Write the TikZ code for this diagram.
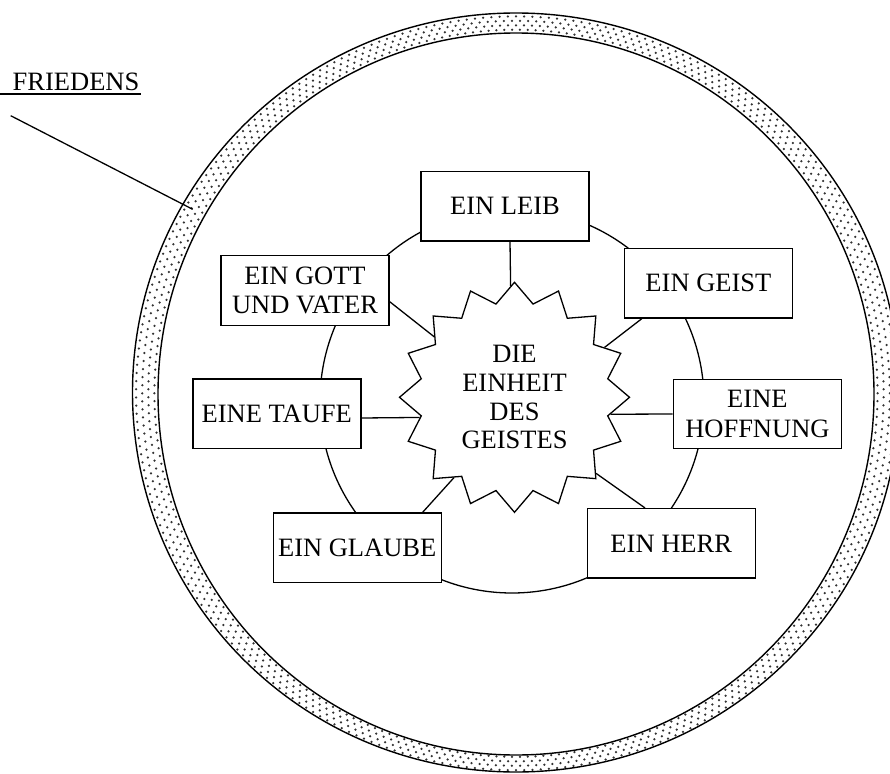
\documentclass[tikz,border=0pt]{standalone}
\usepackage{fontspec}
\setmainfont{Liberation Serif}
\usetikzlibrary{shapes.geometric}
\definecolor{dotc}{gray}{0.2}
\tikzset{
  box/.style={draw, fill=white, line width=1.4pt, rectangle, inner sep=0pt,
    minimum width=168pt, minimum height=69.5pt, align=center,
    font=\fontsize{26.5}{29.5}\selectfont},
  link/.style={line width=1.3pt},
  ringline/.style={line width=1.4pt},
}
\begin{document}
\begin{tikzpicture}[x=1pt,y=-1pt]
\useasboundingbox (0,0) rectangle (890,773);
\clip (0,0) rectangle (890,773);
% dotted ring
\foreach \i in {0,...,289}{
  \foreach \f/\off in {0.14/0,0.38/0.6207,0.62/0,0.86/0.6207}{
    \pgfmathsetmacro\b{\i*1.2413793+\off}
    \fill[dotc] ({516+(358+\f*25.5)*cos(\b)},{393.3+(361+\f*18.5)*sin(\b)}) circle[radius=1.25];
  }
}
\draw[ringline] (516,392.5) ellipse[x radius=383.5, y radius=379.5];
\draw[ringline] (516,394) ellipse[x radius=358, y radius=361];
% FRIEDENS label
\node[anchor=base west, inner sep=0pt, font=\fontsize{26.5}{29.5}\selectfont] (fried) at (12.5,90.7) {FRIEDENS};
\draw[line width=1.5pt] (0,94) -- (141,94);
\coordinate (la) at (10.7,115.7);
\coordinate (lb) at (192.7,209.3);
\draw[link] (la) -- (lb);
% inner circle
\draw[link] (512,401) circle[radius=192];
% star
\node[star, star points=16, star point ratio=1.21, minimum size=230pt, draw, fill=white,
  line width=1.3pt, inner sep=0pt, align=center, font=\fontsize{26.5}{28.7}\selectfont]
  (star) at (514.5,397.3) {DIE\\EINHEIT\\DES\\GEISTES};
% boxes
\node[box] (leib) at (505,206.2) {EIN LEIB};
\node[box] (geist) at (708.4,283.3) {EIN GEIST};
\node[box] (hoff) at (757.4,414) {EINE\\HOFFNUNG};
\node[box] (herr) at (671.2,543.4) {EIN HERR};
\node[box] (glaube) at (357.2,547.7) {EIN GLAUBE};
\node[box] (taufe) at (276.8,413.7) {EINE TAUFE};
\node[box] (gott) at (305,290.5) {EIN GOTT\\UND VATER};
% connectors
\draw[link] ([xshift=5pt]leib.south) -- (star.92.4);
\draw[link] ([xshift=-66.7pt]geist.south) -- (star.29.8);
\draw[link] (hoff.west) -- (star.350.1);
\draw[link] ([xshift=-26.2pt]herr.north) -- (star.317.2);
\draw[link] ([xshift=65.5pt]glaube.north) -- (star.233.4);
\draw[link] ([yshift=-4.3pt]taufe.east) -- (star.192.6);
\draw[link] ([yshift=-11.2pt]gott.east) -- (star.143.7);
\end{tikzpicture}
\end{document}
